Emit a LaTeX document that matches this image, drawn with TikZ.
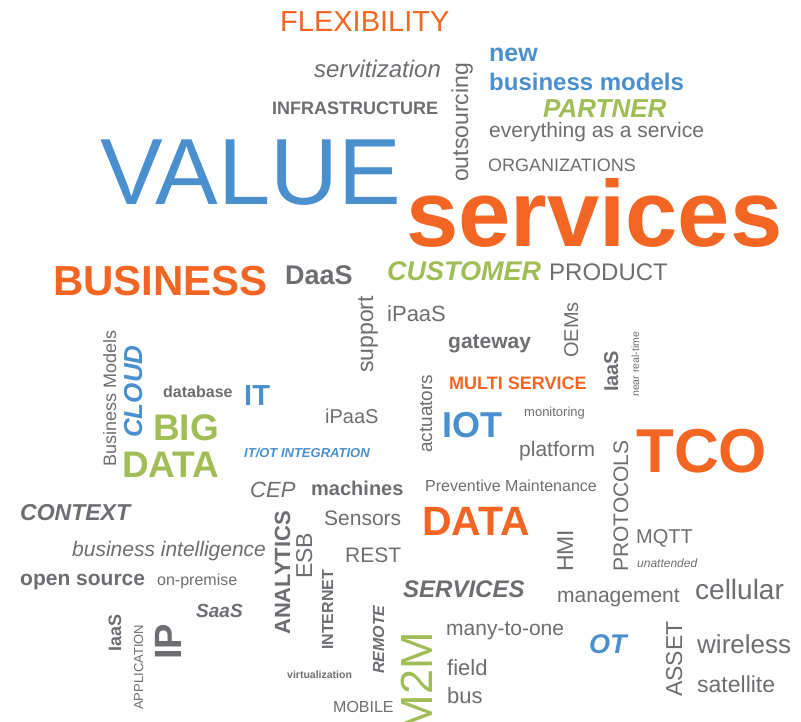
\documentclass[tikz,border=0pt]{standalone}
\usepackage{fontspec}
\setmainfont{Liberation Sans}
\usepackage{tikz}
\definecolor{cloudorange}{HTML}{F26522}
\definecolor{cloudblue}{HTML}{4A8FCE}
\definecolor{cloudgreen}{HTML}{A1BD55}
\definecolor{cloudgray}{HTML}{6D6E71}
\tikzset{
    word/.style = {inner sep=0,anchor=base west,text=cloudgray},
    upword/.style = {word,rotate=90},
    reg/.style = {font=\fontsize{#1}{#1}\selectfont},
    bld/.style = {font=\fontsize{#1}{#1}\selectfont\bfseries},
    ita/.style = {font=\fontsize{#1}{#1}\selectfont\itshape},
    bit/.style = {font=\fontsize{#1}{#1}\selectfont\bfseries\itshape}
}

\begin{document}
\begin{tikzpicture}[x=1pt,y=-1pt]
    \useasboundingbox (0,0) rectangle (801,722);
    % Big words
    \node[word,reg=94,text=cloudblue] (value) at (100,205) {VALUE};
    \node[word,bld=94,text=cloudorange] (services) at (406,247) {services};
    \node[word,bld=62,text=cloudorange] (tco) at (636,472) {TCO};
    \node[word,bld=42,text=cloudorange] (business) at (53,295) {BUSINESS};
    \node[word,bld=41,text=cloudorange] (data) at (422,535) {DATA};
    \node[word,reg=29,text=cloudorange] (flexibility) at (280,32) {FLEXIBILITY};
    \node[word,bld=18,text=cloudorange] (multi) at (449,389) {MULTI SERVICE};
    % Blue
    \node[word,bld=25,text=cloudblue] (new) at (489,62) {new};
    \node[word,bld=24,text=cloudblue] (models) at (489,91) {business models};
    \node[word,bld=29,text=cloudblue] (it) at (244,405) {IT};
    \node[word,bld=36,text=cloudblue] (iot) at (442,437) {IOT};
    \node[word,bit=13,text=cloudblue] (itot) at (244,457) {IT/OT INTEGRATION};
    \node[word,bit=27,text=cloudblue] (ot) at (589,653) {OT};
    \node[upword,bit=26,text=cloudblue] (cloud) at (142,438) {CLOUD};
    % Green
    \node[word,bit=26,text=cloudgreen] (partner) at (543,118) {PARTNER};
    \node[word,bit=27,text=cloudgreen] (customer) at (387,281) {CUSTOMER};
    \node[word,bld=37,text=cloudgreen] (big) at (153,440) {BIG};
    \node[word,bld=37,text=cloudgreen] (bigdata) at (122,477) {DATA};
    \node[upword,reg=45,text=cloudgreen,anchor=base east] (m2m) at (432,632) {M2M};
    % Gray, plain
    \foreach \nm/\px/\py/\sz/\txt in {
        everything/489/138/21/everything as a service,
        organizations/488/172/18/ORGANIZATIONS,
        product/549/280/24/PRODUCT,
        ipaasa/387/322/22/iPaaS,
        ipaasb/325/423/20/iPaaS,
        monitoring/524/416/13/monitoring,
        platform/519/456/21/platform,
        preventive/425/491/16/Preventive Maintenance,
        sensors/324/525/21/Sensors,
        mqtt/636/543/20/MQTT,
        rest/345/562/21/REST,
        onpremise/157/585/16/on-premise,
        management/557/602/21/management,
        cellular/695/599/28/cellular,
        manytoone/446/635/21/many-to-one,
        wireless/697/653/26/wireless,
        field/447/675/22/field,
        satellite/697/692/23/satellite,
        bus/447/703/22/bus,
        mobile/333/712/16/MOBILE}
        \node[word,reg=\sz] (\nm) at (\px,\py) {\txt};
    \foreach \nm/\px/\py/\sz/\txt in {
        outsourcing/468/182/23/outsourcing,
        support/373/373/23/support,
        bmodels/116/467/18/Business Models,
        esb/312/579/23/ESB,
        application/143/710/13/APPLICATION,
        hmi/573/572/23/HMI,
        protocols/628/572/21/PROTOCOLS,
        oems/578/358/20/OEMs,
        nearrt/639/397/10.5/near real-time,
        actuators/432/453/19/actuators,
        asset/682/697/23/ASSET}
        \node[upword,reg=\sz] (\nm) at (\px,\py) {\txt};
    % Gray, bold and italic
    \node[word,ita=24] (servitization) at (314,78) {servitization};
    \node[word,bld=18] (infra) at (272,115) {INFRASTRUCTURE};
    \node[word,bld=27] (daas) at (285,285) {DaaS};
    \node[word,bld=21] (gateway) at (448,348) {gateway};
    \node[word,bld=16] (database) at (163,397) {database};
    \node[word,ita=22] (cep) at (250,497) {CEP};
    \node[word,bld=20] (machines) at (311,495) {machines};
    \node[word,bit=23] (context) at (20,520) {CONTEXT};
    \node[word,ita=21] (bi) at (72,556) {business intelligence};
    \node[word,ita=12] (unattended) at (637,567) {unattended};
    \node[word,bld=21] (opensource) at (20,585) {open source};
    \node[word,bit=24] (servicescap) at (403,597) {SERVICES};
    \node[word,bit=19] (saas) at (196,617) {SaaS};
    \node[word,bld=10.5] (virtualization) at (287,678) {virtualization};
    \node[upword,bld=20] (iaasr) at (618,392) {IaaS};
    \node[upword,bld=22] (analytics) at (290,635) {ANALYTICS};
    \node[upword,bld=18] (iaasl) at (121,652) {IaaS};
    \node[upword,bld=38] (ip) at (181,660) {IP};
    \node[upword,bld=16] (internet) at (333,650) {INTERNET};
    \node[upword,bit=16] (remote) at (384,674) {REMOTE};
\end{tikzpicture}
\end{document}
